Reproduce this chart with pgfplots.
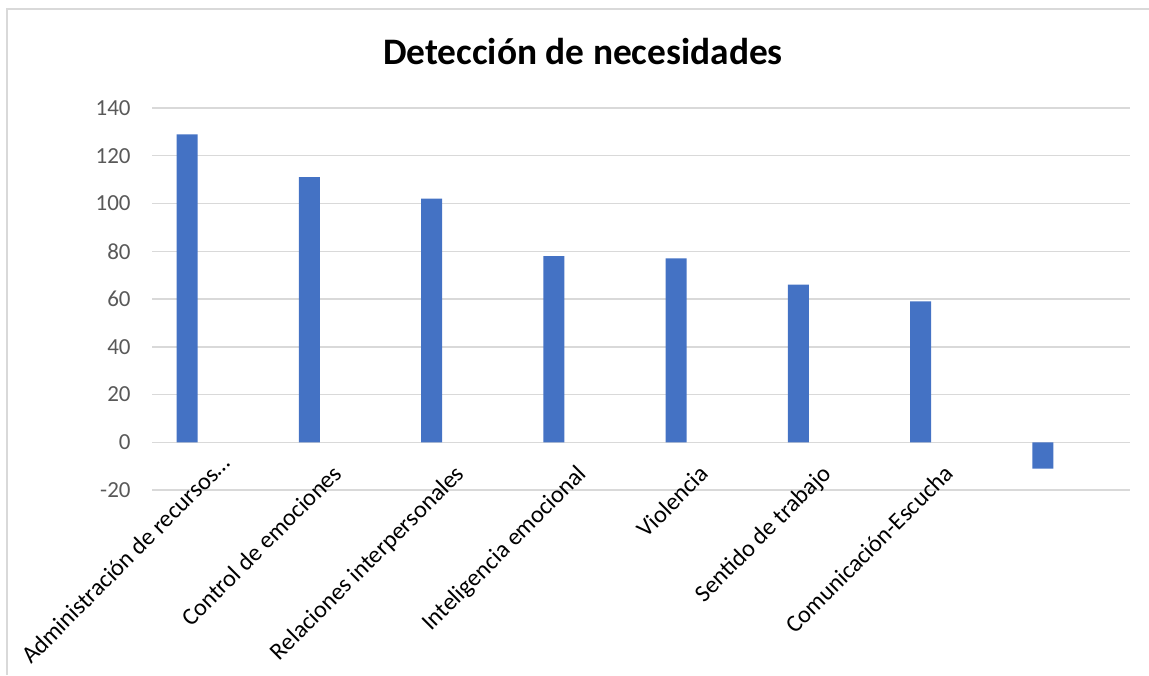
\documentclass[border=0pt]{standalone}
\usepackage{pgfplots}
\pgfplotsset{compat=1.18}
\usepackage{fontspec}
\setmainfont{Carlito}
\definecolor{barblue}{HTML}{4472C4}
\definecolor{gridgray}{HTML}{D9D9D9}
\definecolor{ticktext}{HTML}{595959}
\begin{document}
\begin{tikzpicture}[x=1pt,y=1pt]
\path[use as bounding box] (0,0) rectangle (574.5,337.5);
\draw[gridgray, line width=0.75pt] (3.5,0) -- (3.5,333) -- (574.5,333);
\node[anchor=base, font=\fontsize{18.7}{22}\selectfont\bfseries] at (291.5,305) {Detección de necesidades};
\begin{axis}[
  at={(76pt,92.5pt)}, anchor=south west,
  scale only axis, width=489pt, height=191pt,
  xmin=-0.5, xmax=7.5, ymin=-20, ymax=140,
  ytick={-20,0,20,40,60,80,100,120,140},
  xtick={0,1,2,3,4,5,6,7},
  xticklabels={Administración de recursos…\kern-7.5pt,Control de emociones,Relaciones interpersonales,Inteligencia emocional,Violencia,Sentido de trabajo,Comunicación-Escucha,{}},
  axis x line*=middle, axis y line*=left,
  axis line style={draw=none},
  major tick length=0pt,
  ymajorgrids, grid style={gridgray, line width=0.75pt},
  yticklabel style={font=\fontsize{11.5}{13}\selectfont, text=ticktext, inner sep=0pt, xshift=-10.5pt},
  xticklabel style={font=\fontsize{12.1}{14}\selectfont, text=black, inner sep=0pt, xshift=-2pt, yshift=-10.3pt, rotate=45, anchor=north east},
  /pgf/number format/assume math mode=true,
  ybar, bar width=10.5pt, bar shift=-13pt,
  clip=false,
]
\addplot[fill=barblue, draw=none] coordinates {(0,129) (1,111) (2,102) (3,78) (4,77) (5,66) (6,59) (7,-11)};
\end{axis}
\end{tikzpicture}
\end{document}
